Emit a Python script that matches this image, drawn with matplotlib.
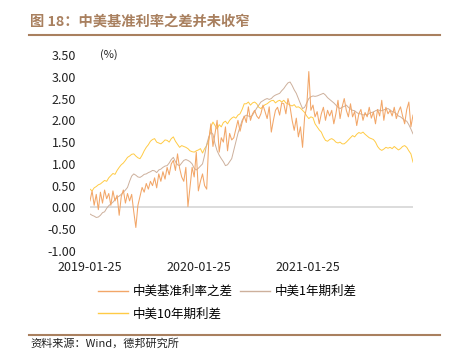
import pandas as pd
import matplotlib
matplotlib.use('Agg')
import matplotlib.pyplot as plt
from matplotlib.lines import Line2D

plt.rcParams['font.family'] = ['Noto Sans CJK SC', 'DejaVu Sans']

# weekly samples starting 2019-01-25
dates = pd.date_range('2019-01-25', periods=156, freq='7D')

# 中美基准利率之差
base_diff = [
    0.15, 0.38, 0.05, 0.30, -0.05, 0.35, 0.10, 0.40, 0.20, 0.32,
    0.05, 0.38, 0.15, 0.28, -0.18, 0.25, 0.40, 0.10, 0.32, 0.15,
    0.30, -0.10, -0.46, 0.05, 0.25, 0.46, 0.35, 0.55, 0.42, 0.60,
    0.50, 0.68, 0.45, 0.77, 0.60, 0.82, 0.65, 0.92, 0.75, 1.00,
    1.08, 0.85, 1.23, 0.90, 0.70, 0.60, 0.92, 0.02, 0.46, 0.92,
    0.70, 1.27, 0.38, 0.60, 0.77, 0.50, 0.42, 1.54, 1.92, 1.40,
    1.70, 2.00, 1.27, 1.60, 1.50, 1.85, 1.30, 1.70, 1.55, 1.60,
    1.80, 2.00, 1.75, 1.95, 2.10, 1.95, 2.31, 2.00, 2.15, 2.23,
    2.10, 2.04, 2.15, 2.35, 2.20, 2.04, 2.31, 1.73, 2.00, 2.23,
    2.30, 2.12, 2.40, 2.38, 2.15, 2.50, 2.31, 2.00, 1.77, 2.05,
    1.62, 1.85, 1.38, 2.08, 2.31, 3.12, 2.23, 2.35, 2.08, 2.20,
    1.92, 2.15, 2.30, 2.00, 2.23, 2.10, 2.23, 1.92, 2.15, 2.46,
    2.04, 2.31, 2.50, 2.23, 2.08, 2.38, 2.08, 2.20, 1.88, 2.15,
    2.25, 2.00, 2.18, 2.08, 2.30, 2.05, 2.19, 1.92, 2.25, 2.10,
    2.46, 2.00, 2.30, 2.15, 2.23, 2.10, 2.30, 2.04, 2.20, 2.31,
    2.10, 1.92, 2.25, 2.42, 1.85, 2.12,
]

# 中美1年期利差
spread_1y = [
    -0.15, -0.18, -0.20, -0.23, -0.22, -0.18, -0.12, -0.10, -0.02, 0.04,
    0.08, 0.12, 0.18, 0.23, 0.26, 0.30, 0.35, 0.40, 0.46, 0.60,
    0.72, 0.77, 0.74, 0.70, 0.69, 0.72, 0.76, 0.77, 0.80, 0.82,
    0.85, 0.84, 0.80, 0.86, 0.88, 0.92, 0.95, 0.96, 1.02, 1.10,
    1.15, 1.05, 0.98, 0.96, 1.02, 1.08, 1.10, 1.08, 1.05, 1.00,
    0.90, 0.86, 0.90, 0.95, 1.00, 1.20, 1.45, 1.62, 1.73, 1.68,
    1.46, 1.30, 1.20, 1.12, 1.05, 0.96, 0.98, 1.05, 1.12, 1.31,
    1.50, 1.70, 1.85, 2.00, 2.08, 2.12, 2.10, 2.08, 2.12, 2.20,
    2.28, 2.35, 2.42, 2.45, 2.48, 2.50, 2.48, 2.50, 2.55, 2.58,
    2.60, 2.62, 2.68, 2.73, 2.80, 2.86, 2.88, 2.80, 2.70, 2.62,
    2.50, 2.38, 2.27, 2.30, 2.40, 2.50, 2.54, 2.56, 2.55, 2.56,
    2.58, 2.60, 2.62, 2.58, 2.52, 2.48, 2.44, 2.40, 2.35, 2.30,
    2.27, 2.30, 2.32, 2.35, 2.30, 2.26, 2.23, 2.22, 2.18, 2.15,
    2.15, 2.12, 2.14, 2.12, 2.16, 2.18, 2.19, 2.22, 2.24, 2.23,
    2.22, 2.24, 2.26, 2.27, 2.24, 2.20, 2.19, 2.15, 2.10, 2.08,
    2.04, 2.00, 1.98, 1.90, 1.80, 1.69,
]

# 中美10年期利差
spread_10y = [
    0.42, 0.38, 0.45, 0.48, 0.52, 0.54, 0.58, 0.62, 0.60, 0.68,
    0.73, 0.78, 0.76, 0.85, 0.92, 0.98, 1.02, 1.08, 1.15, 1.18,
    1.22, 1.23, 1.18, 1.14, 1.12, 1.20, 1.30, 1.38, 1.44, 1.52,
    1.56, 1.58, 1.50, 1.48, 1.46, 1.50, 1.55, 1.54, 1.50, 1.58,
    1.62, 1.52, 1.45, 1.38, 1.42, 1.40, 1.38, 1.35, 1.30, 1.28,
    1.27, 1.30, 1.32, 1.35, 1.25, 1.35, 1.42, 1.55, 1.85, 1.96,
    1.88, 1.80, 1.90, 1.85, 1.95, 1.98, 1.92, 2.00, 2.05, 2.08,
    2.05, 2.12, 2.15, 2.25, 2.38, 2.38, 2.42, 2.35, 2.40, 2.42,
    2.38, 2.30, 2.27, 2.32, 2.36, 2.38, 2.42, 2.45, 2.46, 2.40,
    2.44, 2.46, 2.42, 2.46, 2.40, 2.38, 2.35, 2.33, 2.36, 2.30,
    2.31, 2.28, 2.23, 2.18, 2.10, 2.04, 2.08, 2.06, 1.92, 1.85,
    1.78, 1.73, 1.62, 1.54, 1.52, 1.56, 1.58, 1.55, 1.50, 1.48,
    1.50, 1.46, 1.46, 1.50, 1.55, 1.60, 1.65, 1.62, 1.68, 1.72,
    1.70, 1.73, 1.68, 1.64, 1.60, 1.58, 1.56, 1.50, 1.40, 1.34,
    1.31, 1.34, 1.38, 1.36, 1.38, 1.35, 1.40, 1.36, 1.32, 1.35,
    1.40, 1.42, 1.38, 1.30, 1.23, 1.04,
]

labels = ['中美基准利率之差', '中美1年期利差', '中美10年期利差']
xtick_dates = ['2019-01-25', '2020-01-25', '2021-01-25']
yticks = [-1.0, -0.5, 0.0, 0.5, 1.0, 1.5, 2.0, 2.5, 3.0, 3.5]

c_base = '#F2A668'
c_1y = '#CDB09C'
c_10y = '#FFCB45'
brown = '#A9805F'

fig = plt.figure(figsize=(4.56, 3.54), dpi=100)
ax = fig.add_axes([90 / 456, 1 - 251 / 354, 323 / 456, 196 / 354])

ax.axhline(0, color='#D9D9D9', lw=1.3, zorder=1)
ax.plot(dates, spread_10y, color=c_10y, lw=0.7, zorder=2)
ax.plot(dates, spread_1y, color=c_1y, lw=0.7, zorder=3)
ax.plot(dates, base_diff, color=c_base, lw=0.75, zorder=4)

ax.set_xlim(dates[0], dates[-1])
ax.set_ylim(-1, 3.5)
ax.set_yticks(yticks)
ax.set_yticklabels(['%.2f' % v for v in yticks])
ax.set_xticks(pd.to_datetime(xtick_dates))
ax.set_xticklabels(xtick_dates)
ax.tick_params(length=0, labelsize=9, colors='#222222')
ax.tick_params(axis='y', pad=10)
ax.tick_params(axis='x', pad=7)
for s in ax.spines.values():
    s.set_visible(False)

ax.text(0.03, 3.5, '(%)', transform=ax.get_yaxis_transform(), fontsize=8,
        va='center', ha='left', color='#222222')

handles = [Line2D([], [], color=c_base, lw=1),
           Line2D([], [], color=c_10y, lw=1),
           Line2D([], [], color=c_1y, lw=1)]
fig.legend(handles, [labels[0], labels[2], labels[1]], ncol=2,
           loc='upper left', bbox_to_anchor=(98 / 456, 1 - 285 / 354),
           frameon=False, fontsize=9, handlelength=2.4, handletextpad=0.4,
           columnspacing=0.55, labelspacing=0.75, borderpad=0, borderaxespad=0)

fig.text(30 / 456, 1 - 22 / 354, '图 18：中美基准利率之差并未收窄', fontsize=10.3,
         fontweight='bold', color=brown, va='center', ha='left')
fig.add_artist(Line2D([29 / 456, 440 / 456], [1 - 35 / 354, 1 - 35 / 354],
                      color=brown, lw=1.5))
fig.add_artist(Line2D([29 / 456, 440 / 456], [1 - 335 / 354, 1 - 335 / 354],
                      color=brown, lw=1.5))
fig.text(30 / 456, 1 - 343 / 354, '资料来源：Wind，德邦研究所', fontsize=8,
         color='#222222', va='center', ha='left')

fig.savefig('out.png', dpi=100)
